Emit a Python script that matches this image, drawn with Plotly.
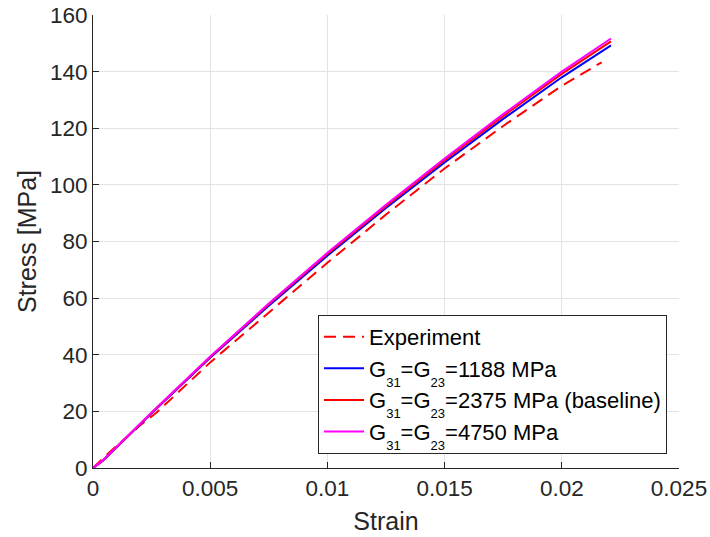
import plotly.graph_objects as go

# Strain (-) and stress (MPa) for the measured response and the three models
strain_exp = [0, 0.0006, 0.002, 0.0027, 0.005, 0.0075, 0.01, 0.0125, 0.015, 0.0175, 0.02, 0.0217]
stress_exp = [0, 4.8, 15.0, 19.5, 37.3, 55.0, 72.5, 89.5, 105.8, 120.8, 135.0, 143.3]

strain_model = [0, 0.0004, 0.0025, 0.005, 0.0075, 0.01, 0.0125, 0.015, 0.0175, 0.02, 0.0221]
stress_g1188 = [0, 2.4, 19.3, 38.9, 57.3, 75.0, 91.8, 107.9, 123.3, 138.0, 149.3]
stress_g2375 = [0, 2.5, 19.5, 39.2, 57.8, 75.6, 92.5, 108.7, 124.3, 139.2, 150.7]
stress_g4750 = [0, 2.6, 19.6, 39.4, 58.1, 76.0, 93.0, 109.3, 125.0, 140.0, 151.7]

x_ticks = [0, 0.005, 0.01, 0.015, 0.02, 0.025]
x_tick_text = ["0", "0.005", "0.01", "0.015", "0.02", "0.025"]
y_ticks = [0, 20, 40, 60, 80, 100, 120, 140, 160]

FONT = "Liberation Sans, Arial, Helvetica, sans-serif"
AX = "#262626"


def sub(s):
    # lowered, small subscript (outer span sets the baseline drop, inner span the glyph size)
    return '<span style="font-size:46px"><sub><span style="font-size:13px">' + s + '</span></sub></span>'


def g_label(value):
    return "G" + sub("31") + "=G" + sub("23") + "=" + value


fig = go.Figure()
fig.add_trace(go.Scatter(x=strain_exp, y=stress_exp, mode="lines", name="Experiment",
                         legendgroup="exp",
                         line=dict(color="#FF0000", width=2, dash="12px,7px")))
fig.add_trace(go.Scatter(x=strain_model, y=stress_g1188, mode="lines",
                         name=g_label("1188 MPa"), legendgroup="g1",
                         line=dict(color="#0000FF", width=2)))
fig.add_trace(go.Scatter(x=strain_model, y=stress_g2375, mode="lines",
                         name=g_label("2375 MPa (baseline)"), legendgroup="g2",
                         line=dict(color="#FF0000", width=2)))
fig.add_trace(go.Scatter(x=strain_model, y=stress_g4750, mode="lines",
                         name=g_label("4750 MPa"), legendgroup="g3",
                         line=dict(color="#FF00FF", width=2)))

fig.update_layout(
    width=710, height=537,
    margin=dict(l=93, r=31, t=15, b=69),
    paper_bgcolor="white", plot_bgcolor="white",
    font=dict(family=FONT, color=AX, size=22),
    showlegend=True,
    legend=dict(x=0.384, y=0.338, xanchor="left", yanchor="top",
                bgcolor="white", bordercolor=AX, borderwidth=1,
                font=dict(size=22, color="black"), itemwidth=40,
                tracegroupgap=0, groupclick="toggleitem"),
    xaxis=dict(range=[0, 0.025], tickvals=x_ticks, ticktext=x_tick_text,
               automargin=False,
               showgrid=True, gridcolor="#e3e3e3", gridwidth=1,
               showline=True, linecolor=AX, linewidth=1, mirror=False,
               ticks="inside", ticklen=6, tickcolor=AX, tickwidth=1,
               tickfont=dict(size=22.5, color=AX), zeroline=False,
               title=dict(text="Strain", font=dict(size=25, color=AX), standoff=12)),
    yaxis=dict(range=[0, 160], tickvals=y_ticks,
               automargin=False,
               showgrid=True, gridcolor="#e3e3e3", gridwidth=1,
               showline=True, linecolor=AX, linewidth=1, mirror=False,
               ticks="inside", ticklen=6, tickcolor=AX, tickwidth=1,
               tickfont=dict(size=22.5, color=AX), zeroline=False,
               title=dict(text="Stress [MPa]", font=dict(size=25, color=AX), standoff=6)),
)

fig.write_html("out.html")
